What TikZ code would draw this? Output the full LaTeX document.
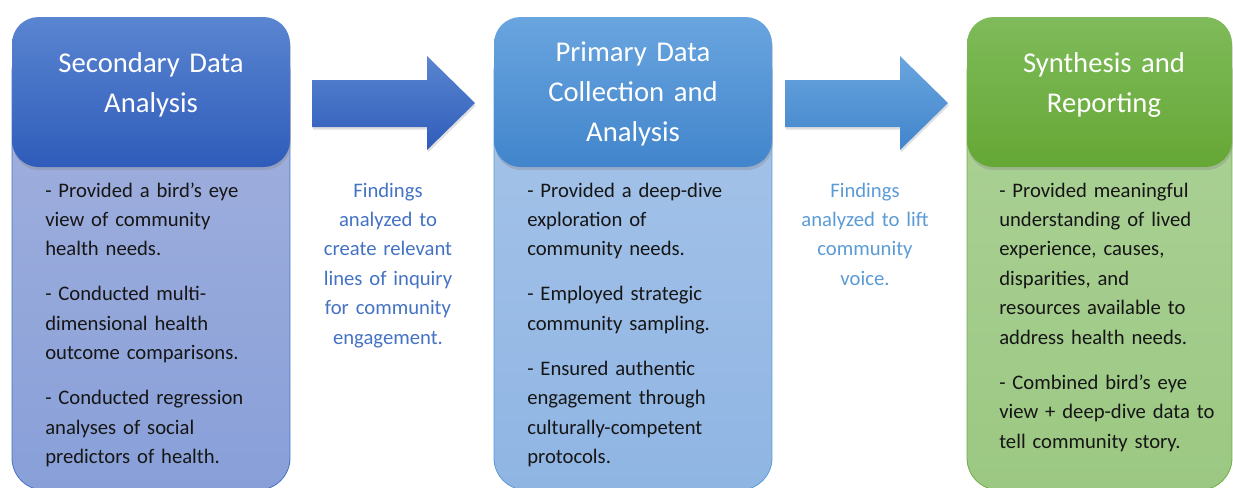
\documentclass[tikz,border=0pt]{standalone}
\usepackage{fontspec}
\setmainfont{Carlito}
\usepackage{xcolor}
\usetikzlibrary{shadows}

\definecolor{hdrAtop}{RGB}{90,133,209}
\definecolor{hdrAbot}{RGB}{47,92,186}
\definecolor{bodyAtop}{RGB}{164,178,222}
\definecolor{bodyAbot}{RGB}{136,159,216}
\definecolor{lineA}{RGB}{68,114,196}
\definecolor{hdrBtop}{RGB}{105,165,223}
\definecolor{hdrBbot}{RGB}{66,133,204}
\definecolor{bodyBtop}{RGB}{168,197,233}
\definecolor{bodyBbot}{RGB}{143,181,227}
\definecolor{lineB}{RGB}{91,155,213}
\definecolor{hdrCtop}{RGB}{127,187,90}
\definecolor{hdrCbot}{RGB}{101,167,53}
\definecolor{bodyCtop}{RGB}{174,210,153}
\definecolor{bodyCbot}{RGB}{155,200,130}
\definecolor{lineC}{RGB}{112,173,71}
\definecolor{txtgray}{RGB}{22,22,22}

\begin{document}
\begin{tikzpicture}[x=0.75pt,y=-0.75pt,
    hdr/.style={rounded corners=20pt,drop shadow={shadow xshift=0.6pt,shadow yshift=-2.4pt,opacity=0.3}},
    bodybox/.style={rounded corners=24pt,line width=0.6pt},
    blk/.style={drop shadow={shadow xshift=0.6pt,shadow yshift=-2pt,opacity=0.25}},
    ttl/.style={text=white,font=\fontsize{21.5}{30}\selectfont,text width=190pt,align=center,inner sep=0pt,anchor=base},
    txt/.style={text=txtgray,font=\fontsize{15.5}{22.1}\selectfont,text width=185pt,align=left,inner sep=0pt,anchor=base west},
    fnd/.style={font=\fontsize{15.5}{22.1}\selectfont,text width=120pt,align=center,inner sep=0pt,anchor=base}]
        \clip (0,0) rectangle (1233,487);
        %下の箱
        \path[bodybox,draw=lineA,top color=bodyAtop,bottom color=bodyAbot] (12,40) rectangle (290,490);
        \path[bodybox,draw=lineB,top color=bodyBtop,bottom color=bodyBbot] (494,40) rectangle (772,490);
        \path[bodybox,draw=lineC,top color=bodyCtop,bottom color=bodyCbot] (967,40) rectangle (1232,490);
        %見出しの箱
        \path[hdr,top color=hdrAtop,bottom color=hdrAbot] (12,17) rectangle (290,167);
        \path[hdr,top color=hdrBtop,bottom color=hdrBbot] (494,17) rectangle (772,167);
        \path[hdr,top color=hdrCtop,bottom color=hdrCbot] (967,17) rectangle (1232,167);
        %矢印
        \foreach \x/\c in {312/A,785/B}
            \path[blk,top color=hdr\c top,bottom color=hdr\c bot] (\x,80)--(\x+115,80)--(\x+115,56)--(\x+163,103)--(\x+115,150)--(\x+115,127)--(\x,127)--cycle;
        %見出し
        \node[ttl] (t1) at (151,72) {Secondary Data\\Analysis};
        \node[ttl] (t2) at (633,61) {Primary Data\\Collection and\\Analysis};
        \node[ttl] (t3) at (1104,72) {Synthesis and\\Reporting};
        %本文
        \node[txt] (b1) at (45,197) {- Provided a bird’s eye\\view of community\\health needs.\\[11.6pt]- Conducted multi-\\dimensional health\\outcome comparisons.\\[11.6pt]- Conducted regression\\analyses of social\\predictors of health.};
        \node[txt] (b2) at (527,197) {- Provided a deep-dive\\exploration of\\community needs.\\[11.6pt]- Employed strategic\\community sampling.\\[11.6pt]- Ensured authentic\\engagement through\\culturally-competent\\protocols.};
        \node[txt] (b3) at (999,197) {- Provided meaningful\\understanding of lived\\experience, causes,\\disparities, and\\resources available to\\address health needs.\\[11.6pt]- Combined bird’s eye\\view + deep-dive data to\\tell community story.};
        %矢印の説明
        \node[fnd,text=lineA] (f1) at (388,197) {Findings\\analyzed to\\create relevant\\lines of inquiry\\for community\\engagement.};
        \node[fnd,text=lineB] (f2) at (865,197) {Findings\\analyzed to lift\\community\\voice.};
    \end{tikzpicture}
\end{document}
